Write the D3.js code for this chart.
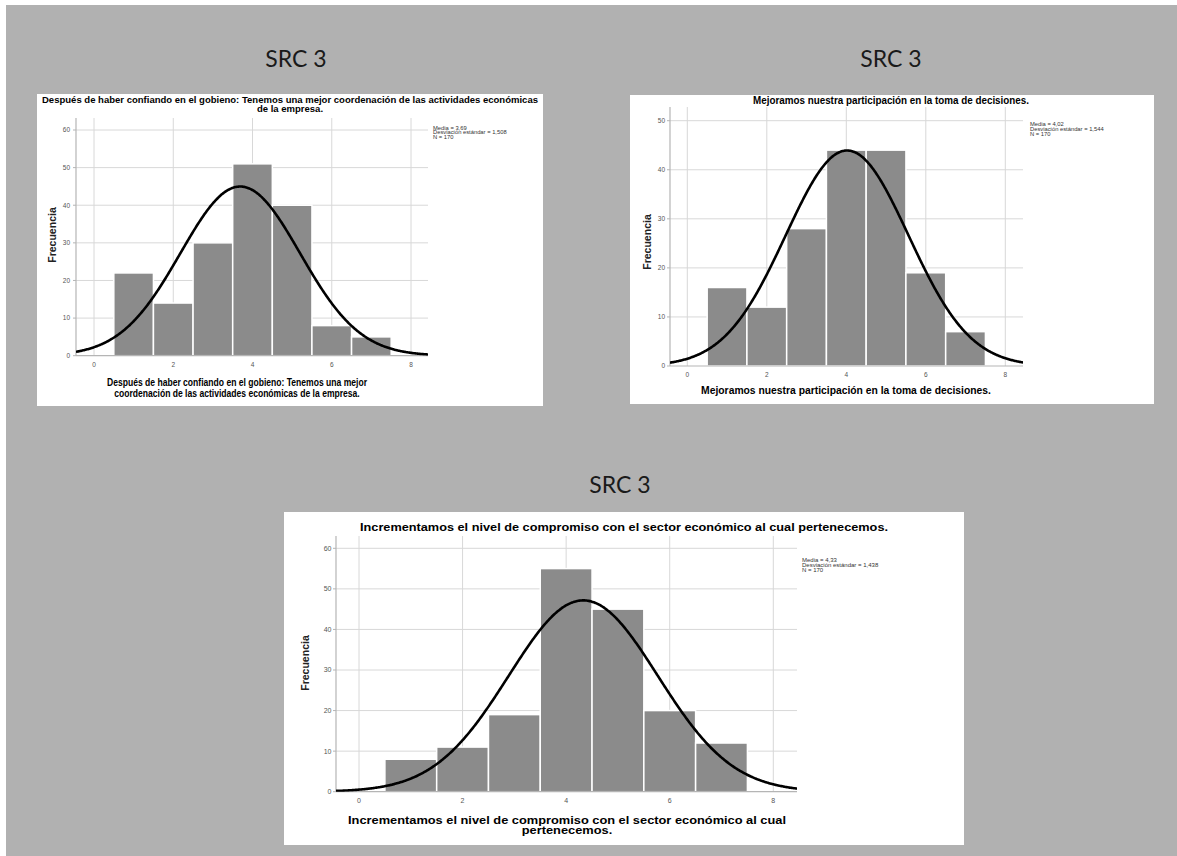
<!DOCTYPE html>
<html><head><meta charset="utf-8">
<script src="https://cdn.jsdelivr.net/npm/d3@7/dist/d3.min.js"></script>
<style>
html,body{margin:0;padding:0;background:#fff;}
svg{display:block;}
</style>
</head><body>
<svg id="c" width="1177" height="856"></svg>
<script>
// ---------- data ----------
const categories = [1, 2, 3, 4, 5, 6, 7];
const freqCoordinacion = [22, 14, 30, 51, 40, 8, 5];
const freqDecisiones = [16, 12, 28, 44, 44, 19, 7];
const freqCompromiso = [8, 11, 19, 55, 45, 20, 12];
const means = [3.69, 4.02, 4.33];
const sds = [1.508, 1.544, 1.438];
const nObs = 170;
const meanLabels = ["3,69", "4,02", "4,33"];
const sdLabels = ["1,508", "1,544", "1,438"];
const xTickValues = [0, 2, 4, 6, 8];
const yTicksA = [0, 10, 20, 30, 40, 50, 60];
const yTicksB = [0, 10, 20, 30, 40, 50];
const yTicksC = [0, 10, 20, 30, 40, 50, 60];
const titlesA = ["Después de haber confiando en el gobieno: Tenemos una mejor coordenación de las actividades económicas", "de la empresa."];
const xTitlesA = ["Después de haber confiando en el gobieno: Tenemos una mejor", "coordenación de las actividades económicas de la empresa."];
const titlesB = ["Mejoramos nuestra participación en la toma de decisiones."];
const xTitlesB = ["Mejoramos nuestra participación en la toma de decisiones."];
const titlesC = ["Incrementamos el nivel  de compromiso con el sector económico al cual pertenecemos."];
const xTitlesC = ["Incrementamos el nivel  de compromiso con el sector económico al cual", "pertenecemos."];
const sectionLabel = "SRC 3";

// ---------- layout ----------
const svg = d3.select("#c");
svg.append("rect").attr("x", 6).attr("y", 5).attr("width", 1171).attr("height", 851).attr("fill", "#b1b1b1");

const panels = [
  { freq: freqCoordinacion, yTicks: yTicksA, mean: means[0], sd: sds[0], mLab: meanLabels[0], sLab: sdLabels[0],
    titles: titlesA, xTitles: xTitlesA,
    box: [37, 94, 543, 406], px: [94, 411], plot: [76, 428], y0: 355.7, yTopVal: 60, yTopPx: 130, axisTop: 118,
    titleTarget: 496, titleCx: 290, titleY: [103, 112], titleFs: 9.5,
    xTitleCx: 237, xTitleY: [386, 397], xTitleFs: 10.5, xTitleTarget: 260,
    yLabEnd: 70, xLabY: 366.5, tickFs: 6.5, frecX: 52, frecY: 235,
    stats: [433, 129.5, 4.8], statFs: 5.8, src: [296, 67] },
  { freq: freqDecisiones, yTicks: yTicksB, mean: means[1], sd: sds[1], mLab: meanLabels[1], sLab: sdLabels[1],
    titles: titlesB, xTitles: xTitlesB,
    box: [630, 95, 1154, 404], px: [687.3, 1005.3], plot: [670, 1023], y0: 366, yTopVal: 50, yTopPx: 120.7, axisTop: 107,
    titleTarget: 276, titleCx: 891, titleY: [104], titleFs: 10,
    xTitleCx: 846, xTitleY: [394], xTitleFs: 10.5, xTitleTarget: null,
    yLabEnd: 665, xLabY: 376.5, tickFs: 6.5, frecX: 647, frecY: 242,
    stats: [1030, 126, 4.8], statFs: 5.8, src: [891, 67] },
  { freq: freqCompromiso, yTicks: yTicksC, mean: means[2], sd: sds[2], mLab: meanLabels[2], sLab: sdLabels[2],
    titles: titlesC, xTitles: xTitlesC,
    box: [284, 512, 964, 845], px: [359, 773.3], plot: [336, 797], y0: 791.7, yTopVal: 60, yTopPx: 548.3, axisTop: 536,
    titleTarget: 528, titleCx: 624, titleY: [531], titleFs: 11.5,
    xTitleCx: 567, xTitleY: [824, 834], xTitleFs: 11.5, xTitleTarget: 438,
    yLabEnd: 331.5, xLabY: 803, tickFs: 7, frecX: 305, frecY: 663,
    stats: [802, 562, 4.9], statFs: 6, src: [620, 493] }
];

function normalPdf(x, m, s) {
  return Math.exp(-0.5 * ((x - m) / s) ** 2) / (s * Math.sqrt(2 * Math.PI));
}

panels.forEach((p, i) => {
  const g = svg.append("g");
  const [bx0, by0, bx1, by1] = p.box;
  g.append("rect").attr("x", bx0).attr("y", by0).attr("width", bx1 - bx0).attr("height", by1 - by0).attr("fill", "#fff");

  // section label
  svg.append("text").attr("x", p.src[0]).attr("y", p.src[1]).attr("text-anchor", "middle")
    .attr("font-family", "Lato, 'Open Sans', sans-serif").attr("font-size", 23).attr("fill", "#1a1a1a").text(sectionLabel);

  const x = d3.scaleLinear().domain([0, 8]).range(p.px);
  const y = d3.scaleLinear().domain([0, p.yTopVal]).range([p.y0, p.yTopPx]);
  const xMin = x.invert(p.plot[0]), xMax = x.invert(p.plot[1]);

  const clipId = "clip" + i;
  g.append("clipPath").attr("id", clipId).append("rect")
    .attr("x", p.plot[0]).attr("y", p.axisTop).attr("width", p.plot[1] - p.plot[0]).attr("height", p.y0 - p.axisTop);

  // gridlines
  g.append("g").selectAll("line").data(p.yTicks.filter(d => d > 0)).join("line")
    .attr("x1", p.plot[0]).attr("x2", p.plot[1]).attr("y1", d => y(d)).attr("y2", d => y(d))
    .attr("stroke", "#d8d8d8").attr("stroke-width", 1);
  g.append("g").selectAll("line").data(xTickValues).join("line")
    .attr("x1", d => x(d)).attr("x2", d => x(d)).attr("y1", p.axisTop).attr("y2", p.y0)
    .attr("stroke", "#d8d8d8").attr("stroke-width", 1);

  // bars
  const bars = categories.map((c, k) => ({ c, v: p.freq[k] }));
  g.append("g").selectAll("rect").data(bars).join("rect")
    .attr("x", d => x(d.c - 0.5)).attr("width", d => x(d.c + 0.5) - x(d.c - 0.5))
    .attr("y", d => y(d.v)).attr("height", d => y(0) - y(d.v))
    .attr("fill", "#8b8b8b").attr("stroke", "#ffffff").attr("stroke-width", 1.5);

  // axes lines
  g.append("line").attr("x1", p.plot[0]).attr("x2", p.plot[1]).attr("y1", p.y0).attr("y2", p.y0)
    .attr("stroke", "#b5b5b5").attr("stroke-width", 1.2);
  g.append("line").attr("x1", p.plot[0]).attr("x2", p.plot[0]).attr("y1", p.axisTop).attr("y2", p.y0)
    .attr("stroke", "#b5b5b5").attr("stroke-width", 1.2);
  g.append("g").selectAll("line").data(p.yTicks).join("line")
    .attr("x1", p.plot[0] - 3).attr("x2", p.plot[0]).attr("y1", d => y(d)).attr("y2", d => y(d))
    .attr("stroke", "#b5b5b5");

  // normal curve
  const pts = d3.range(xMin, xMax + 0.02, 0.02).map(t => [t, nObs * 1 * normalPdf(t, p.mean, p.sd)]);
  g.append("path").datum(pts).attr("clip-path", `url(#${clipId})`)
    .attr("d", d3.line().x(d => x(d[0])).y(d => y(d[1])).curve(d3.curveBasis))
    .attr("fill", "none").attr("stroke", "#000").attr("stroke-width", 2.6);

  // tick labels
  g.append("g").selectAll("text").data(p.yTicks).join("text")
    .attr("x", p.yLabEnd).attr("y", d => y(d)).attr("dy", "0.35em").attr("text-anchor", "end")
    .attr("font-family", "'Liberation Sans', Arial, sans-serif").attr("font-size", p.tickFs).attr("fill", "#555")
    .text(d => d);
  g.append("g").selectAll("text").data(xTickValues).join("text")
    .attr("x", d => x(d)).attr("y", p.xLabY).attr("text-anchor", "middle")
    .attr("font-family", "'Liberation Sans', Arial, sans-serif").attr("font-size", p.tickFs).attr("fill", "#555")
    .text(d => d);

  // Y title
  g.append("text").attr("transform", `translate(${p.frecX},${p.frecY}) rotate(-90)`).attr("dy", "0.35em")
    .attr("text-anchor", "middle").attr("font-family", "'Liberation Sans', Arial, sans-serif")
    .attr("font-weight", "bold").attr("font-size", 10.5).attr("fill", "#222").text("Frecuencia");

  // titles (compressed horizontally like the reference)
  const t0 = g.append("text").attr("x", p.titleCx).attr("y", p.titleY[0]).attr("text-anchor", "middle")
    .attr("font-family", "'Liberation Sans', Arial, sans-serif").attr("font-weight", "bold")
    .attr("font-size", p.titleFs).attr("fill", "#000").text(p.titles[0]);
  const nat0 = t0.node().getComputedTextLength();
  const k = p.titleTarget / nat0;
  t0.attr("textLength", p.titleTarget).attr("lengthAdjust", "spacingAndGlyphs");
  p.titles.slice(1).forEach((s, j) => {
    const t = g.append("text").attr("x", p.titleCx).attr("y", p.titleY[j + 1]).attr("text-anchor", "middle")
      .attr("font-family", "'Liberation Sans', Arial, sans-serif").attr("font-weight", "bold")
      .attr("font-size", p.titleFs).attr("fill", "#000").text(s);
    t.attr("textLength", t.node().getComputedTextLength() * k).attr("lengthAdjust", "spacingAndGlyphs");
  });

  // x title
  let kx = k;
  p.xTitles.forEach((s, j) => {
    const t = g.append("text").attr("x", p.xTitleCx).attr("y", p.xTitleY[j]).attr("text-anchor", "middle")
      .attr("font-family", "'Liberation Sans', Arial, sans-serif").attr("font-weight", "bold")
      .attr("font-size", p.xTitleFs).attr("fill", "#000").text(s);
    const nat = t.node().getComputedTextLength();
    if (j === 0 && p.xTitleTarget) kx = p.xTitleTarget / nat;
    t.attr("textLength", nat * kx).attr("lengthAdjust", "spacingAndGlyphs");
  });

  // stats
  const statLines = ["Media = " + p.mLab, "Desviación estándar = " + p.sLab, "N = " + nObs];
  g.append("g").selectAll("text").data(statLines).join("text")
    .attr("x", p.stats[0]).attr("y", (d, j) => p.stats[1] + j * p.stats[2])
    .attr("font-family", "'Liberation Sans', Arial, sans-serif").attr("font-size", p.statFs).attr("fill", "#333")
    .text(d => d);
});
</script>
</body></html>
